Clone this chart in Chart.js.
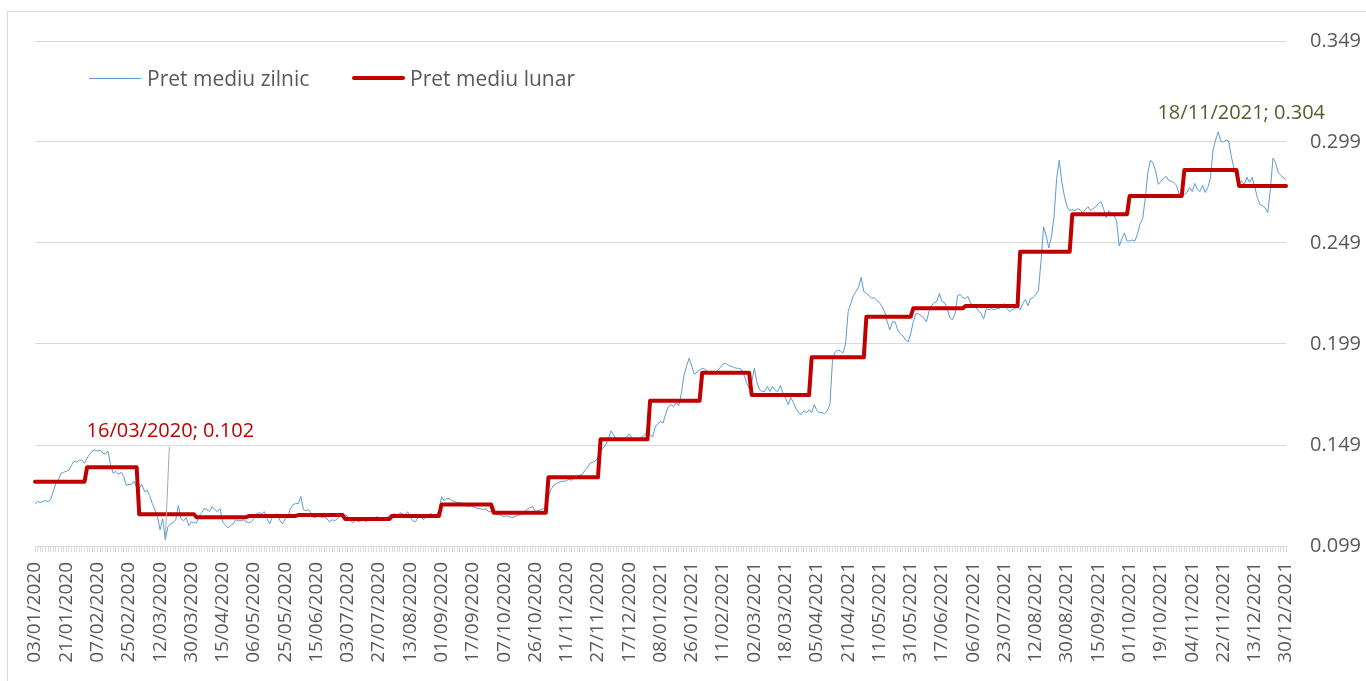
<!DOCTYPE html>
<html>
<head>
<meta charset="utf-8">
<script src="https://cdn.jsdelivr.net/npm/chart.js@4/dist/chart.umd.min.js"></script>
<style>
  body { margin: 0; background: #fff; }
  #wrap { position: relative; width: 1366px; height: 681px; overflow: hidden; font-family: "Open Sans", sans-serif; }
  #frame { position: absolute; left: 7px; top: 11px; width: 1400px; height: 700px; border-left: 1px solid #d9d9d9; border-top: 1px solid #d9d9d9; }
  #chart { position: absolute; left: 0; top: 0; }
  .lg-line { position: absolute; }
  .lg-text { position: absolute; font-size: 21px; color: #595959; line-height: 28px; white-space: nowrap; }
</style>
</head>
<body>
<div id="wrap">
  <div id="frame"></div>
  <canvas id="chart" width="1366" height="681"></canvas>
  <div class="lg-line" style="left:89px; top:78px; width:52px; height:1px; background:#5b9bd5;"></div>
  <div class="lg-text" style="left:147px; top:64px;">Pret mediu zilnic</div>
  <div class="lg-line" style="left:352px; top:76px; width:53px; height:4px; border-radius:2px; background:#c00000;"></div>
  <div class="lg-text" style="left:410px; top:64px;">Pret mediu lunar</div>
</div>
<script>
// x axis labels, shown every 12 trading days
const tickLabels = [
  '03/01/2020', '21/01/2020', '07/02/2020', '25/02/2020', '12/03/2020', '30/03/2020', '15/04/2020',
  '06/05/2020', '25/05/2020', '15/06/2020', '03/07/2020', '27/07/2020', '13/08/2020', '01/09/2020',
  '17/09/2020', '07/10/2020', '26/10/2020', '11/11/2020', '27/11/2020', '17/12/2020', '08/01/2021',
  '26/01/2021', '11/02/2021', '02/03/2021', '18/03/2021', '05/04/2021', '21/04/2021', '11/05/2021',
  '31/05/2021', '17/06/2021', '06/07/2021', '23/07/2021', '12/08/2021', '30/08/2021', '15/09/2021',
  '01/10/2021', '19/10/2021', '04/11/2021', '22/11/2021', '13/12/2021', '30/12/2021'
];
const labelStep = 12;

const yTicks = [0.099, 0.149, 0.199, 0.249, 0.299, 0.349];

// daily average price, one line per month
const dailyPrice = [
  0.120, 0.121, 0.1205, 0.121, 0.1215, 0.121, 0.122, 0.126, 0.130, 0.132, 0.135, 0.1355, 0.136, 0.1365, 0.139, 0.141, 0.1405, 0.1415, 0.1415, 0.140,
  0.1425, 0.1445, 0.146, 0.1465, 0.146, 0.1465, 0.145, 0.1445, 0.146, 0.139, 0.135, 0.136, 0.1345, 0.1355, 0.1335, 0.129, 0.1295, 0.1295, 0.131, 0.128,
  0.1275, 0.1295, 0.126, 0.1265, 0.124, 0.120, 0.117, 0.1135, 0.107, 0.1125, 0.102, 0.1085, 0.110, 0.1105, 0.112, 0.119, 0.1125, 0.1115, 0.113, 0.109, 0.111, 0.1105,
  0.1105, 0.114, 0.1155, 0.1175, 0.117, 0.116, 0.1185, 0.117, 0.116, 0.1175, 0.111, 0.1095, 0.108, 0.109, 0.110, 0.112, 0.1115, 0.1115, 0.112, 0.111,
  0.1105, 0.111, 0.1125, 0.115, 0.1155, 0.115, 0.116, 0.1125, 0.110, 0.113, 0.114, 0.115, 0.1115, 0.110, 0.1125, 0.1135, 0.1175, 0.1195, 0.120,
  0.120, 0.1235, 0.117, 0.1165, 0.117, 0.115, 0.113, 0.1135, 0.1145, 0.113, 0.1135, 0.1125, 0.111, 0.112, 0.1115, 0.1125, 0.114, 0.1135,
  0.1145, 0.1135, 0.1115, 0.1105, 0.112, 0.111, 0.1115, 0.1125, 0.111, 0.112, 0.113, 0.1115, 0.1135, 0.113, 0.1115, 0.112, 0.113, 0.114,
  0.1145, 0.115, 0.114, 0.1155, 0.115, 0.1145, 0.116, 0.113, 0.1115, 0.111, 0.113, 0.114, 0.112, 0.1135, 0.1145, 0.115, 0.114, 0.1145, 0.1165,
  0.1235, 0.1215, 0.1225, 0.1225, 0.1215, 0.121, 0.1205, 0.1205, 0.120, 0.1195, 0.1185, 0.119, 0.1185, 0.118, 0.1175, 0.1175, 0.117, 0.1175, 0.116, 0.116,
  0.1165, 0.115, 0.1145, 0.114, 0.1135, 0.114, 0.1135, 0.113, 0.1135, 0.114, 0.1145, 0.115, 0.116, 0.1175, 0.118, 0.1185, 0.116, 0.1165, 0.117, 0.1175, 0.119,
  0.1235, 0.127, 0.129, 0.130, 0.1305, 0.131, 0.131, 0.1315, 0.132, 0.1315, 0.133, 0.1335, 0.134, 0.1345, 0.1365, 0.138, 0.140, 0.1405, 0.141, 0.143,
  0.146, 0.1475, 0.149, 0.152, 0.156, 0.154, 0.152, 0.1525, 0.152, 0.1515, 0.153, 0.1545, 0.1525, 0.1515, 0.152, 0.1525, 0.153, 0.154, 0.156,
  0.154, 0.153, 0.158, 0.1595, 0.1605, 0.160, 0.1645, 0.168, 0.169, 0.168, 0.170, 0.1685, 0.1745, 0.1835, 0.188, 0.192, 0.188, 0.184, 0.185, 0.186,
  0.187, 0.1865, 0.1855, 0.1845, 0.184, 0.1845, 0.186, 0.1875, 0.189, 0.1895, 0.1885, 0.188, 0.1875, 0.187, 0.187, 0.1865, 0.184, 0.180, 0.177,
  0.180, 0.187, 0.180, 0.1765, 0.1755, 0.1755, 0.178, 0.1755, 0.178, 0.176, 0.1755, 0.1785, 0.1745, 0.172, 0.169, 0.1725, 0.170, 0.167, 0.165, 0.164, 0.166, 0.165, 0.1665,
  0.165, 0.169, 0.166, 0.165, 0.165, 0.1645, 0.166, 0.169, 0.191, 0.195, 0.196, 0.1955, 0.1945, 0.199, 0.215, 0.219, 0.223, 0.225, 0.227, 0.232, 0.225,
  0.224, 0.223, 0.2215, 0.222, 0.2205, 0.2195, 0.2175, 0.215, 0.210, 0.206, 0.210, 0.210, 0.206, 0.204, 0.203, 0.201, 0.200, 0.204,
  0.210, 0.214, 0.214, 0.213, 0.212, 0.210, 0.215, 0.218, 0.2195, 0.220, 0.224, 0.220, 0.2195, 0.2165, 0.212, 0.211, 0.214, 0.223, 0.2235, 0.222,
  0.2215, 0.2225, 0.219, 0.2185, 0.217, 0.2155, 0.214, 0.2115, 0.2165, 0.216, 0.2165, 0.216, 0.2165, 0.2165, 0.218, 0.219, 0.2165, 0.215, 0.216, 0.2166, 0.2175,
  0.216, 0.219, 0.221, 0.218, 0.2215, 0.222, 0.2235, 0.2255, 0.240, 0.257, 0.2525, 0.2465, 0.252, 0.262, 0.281, 0.290, 0.279, 0.272, 0.267, 0.265,
  0.2655, 0.265, 0.266, 0.2655, 0.264, 0.2655, 0.267, 0.265, 0.266, 0.267, 0.2685, 0.2695, 0.266, 0.2615, 0.265, 0.263, 0.2625, 0.260, 0.2475, 0.251, 0.254, 0.250,
  0.250, 0.2505, 0.250, 0.2535, 0.2585, 0.261, 0.271, 0.284, 0.290, 0.2885, 0.2845, 0.278, 0.2795, 0.281, 0.282, 0.280, 0.2795, 0.279, 0.2775, 0.273, 0.2745,
  0.273, 0.274, 0.2765, 0.2745, 0.2785, 0.2755, 0.2745, 0.2775, 0.274, 0.2765, 0.281, 0.295, 0.300, 0.304, 0.2995, 0.299, 0.300, 0.2995, 0.292, 0.286, 0.281,
  0.279, 0.2795, 0.278, 0.2815, 0.279, 0.2815, 0.277, 0.2715, 0.268, 0.2675, 0.2665, 0.264, 0.2755, 0.291, 0.289, 0.284, 0.2825, 0.2815, 0.280
];

// monthly average price and number of daily points in each month (Jan 2020 .. Dec 2021)
const monthlyPrice = [
  0.1308, 0.1380, 0.1147, 0.1132, 0.1139, 0.1143, 0.1124, 0.1139, 0.1196, 0.1155, 0.1330, 0.1518,
  0.1709, 0.1848, 0.1737, 0.1924, 0.2125, 0.2167, 0.2178, 0.2447, 0.2632, 0.2723, 0.2851, 0.2772
];
const monthDays = [20, 20, 22, 20, 19, 18, 18, 19, 20, 21, 20, 19, 20, 19, 23, 21, 18, 20, 21, 20, 22, 21, 21, 19];

const lowNote = '16/03/2020; 0.102';
const highNote = '18/11/2021; 0.304';

// monthly value repeated on each day of the month
const monthlySeries = [];
monthDays.forEach((n, m) => {
  for (let k = 0; k < n; k++) monthlySeries.push(monthlyPrice[m]);
});

const categories = dailyPrice.map((_, i) => i % labelStep === 0 ? tickLabels[i / labelStep] : '');

const lowIndex = dailyPrice.indexOf(Math.min(...dailyPrice));
const highIndex = dailyPrice.indexOf(Math.max(...dailyPrice));

const notesPlugin = {
  id: 'notes',
  afterDatasetsDraw(chart) {
    const ctx = chart.ctx;
    const meta = chart.getDatasetMeta(1);
    const lo = meta.data[lowIndex];
    const hi = meta.data[highIndex];
    ctx.save();
    ctx.strokeStyle = '#a6a6a6';
    ctx.lineWidth = 1;
    ctx.beginPath();
    ctx.moveTo(lo.x, lo.y);
    ctx.lineTo(lo.x + 4, lo.y - 93);
    ctx.stroke();
    ctx.font = '20px "Open Sans"';
    ctx.textAlign = 'center';
    ctx.textBaseline = 'middle';
    ctx.fillStyle = '#c00000';
    ctx.fillText(lowNote, lo.x + 5, lo.y - 109);
    ctx.fillStyle = '#4f6228';
    ctx.fillText(highNote, hi.x + 23, hi.y - 19);
    ctx.restore();
  }
};

const PriceChart = new Chart(document.getElementById('chart'), {
  type: 'line',
  data: {
    labels: categories,
    datasets: [{
      label: 'Pret mediu lunar',
      data: monthlySeries,
      borderColor: '#c00000',
      borderWidth: 4,
      borderJoinStyle: 'round',
      borderCapStyle: 'round',
      pointRadius: 0,
      order: 0
    }, {
      label: 'Pret mediu zilnic',
      data: dailyPrice,
      borderColor: '#5b9bd5',
      borderWidth: 1,
      pointRadius: 0,
      order: 1
    }]
  },
  options: {
    responsive: false,
    animation: false,
    layout: { padding: { left: 35, top: 41, right: 0, bottom: 0 } },
    plugins: {
      legend: { display: false },
      tooltip: { enabled: false }
    },
    scales: {
      x: {
        offset: false,
        grid: { drawOnChartArea: false, drawTicks: true, tickLength: 6, color: '#d9d9d9' },
        border: { color: '#d9d9d9' },
        ticks: {
          autoSkip: false,
          maxRotation: 90,
          minRotation: 90,
          padding: 10,
          color: '#595959',
          font: { family: 'Open Sans', size: 19 }
        },
        afterFit: s => { s.height = 135; }
      },
      y: {
        position: 'right',
        min: 0.099,
        max: 0.349,
        afterBuildTicks: s => { s.ticks = yTicks.map(v => ({ value: v })); },
        grid: { color: '#d9d9d9', drawTicks: false },
        border: { display: false },
        ticks: {
          padding: 24,
          color: '#595959',
          font: { family: 'Open Sans', size: 20 },
          callback: v => v.toFixed(3)
        },
        afterFit: s => { s.width = 80; }
      }
    }
  },
  plugins: [notesPlugin]
});
</script>
</body>
</html>
